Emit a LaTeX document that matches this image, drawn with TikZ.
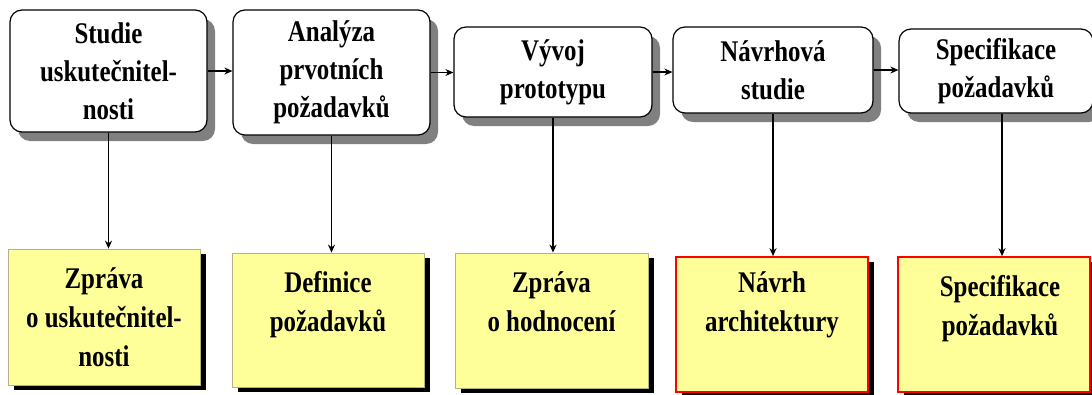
\documentclass[tikz,border=0pt]{standalone}
\usepackage{fontspec}
\setmainfont{Liberation Serif}[FakeStretch=0.83]
\usetikzlibrary{shapes.geometric, arrows.meta, shadows, positioning}
\definecolor{memo}{HTML}{FFFF99}
\definecolor{memoedge}{HTML}{B4B482}
\tikzstyle{phase} = [rectangle, rounded corners=12pt, draw=black, line width=1.2pt, fill=white, align=center, font=\bfseries\fontsize{30}{38}\selectfont, drop shadow={shadow xshift=8pt, shadow yshift=-9pt, fill=black!50, opacity=1}]
\tikzstyle{report} = [rectangle, draw=memoedge, line width=0.8pt, fill=memo, drop shadow={shadow xshift=6pt, shadow yshift=-5pt, fill=black, opacity=1}]
\tikzstyle{keyreport} = [report, draw=red, line width=1.6pt]
\tikzstyle{doctext} = [align=center, inner sep=0pt, font=\bfseries\fontsize{30}{39}\selectfont]
\tikzstyle{arrow} = [line width=1.2pt,-{Stealth[length=8pt,width=7pt]}]

\begin{document}
\begin{tikzpicture}[x=1pt, y=-1pt]
        \useasboundingbox (0,0) rectangle (1092,394);
        \node (studie) [phase, minimum width=197pt, minimum height=122pt] at (108.5,71) {Studie\\uskutečnitel-\\nosti};
        \node (analyza) [phase, minimum width=197pt, minimum height=125pt] at (331.5,72.5) {Analýza\\prvotních\\požadavků};
        \node (vyvoj) [phase, minimum width=198pt, minimum height=90pt] at (553,72) {Vývoj\\prototypu};
        \node (navrhova) [phase, minimum width=200pt, minimum height=86pt] at (773,70) {Návrhová\\studie};
        \node (specifikace) [phase, minimum width=194pt, minimum height=84pt] at (996,71) {Specifikace\\požadavků};

        \node (zprava) [report, minimum width=192pt, minimum height=136pt] at (104,317) {};
        \node (definice) [report, minimum width=192pt, minimum height=134pt] at (328,320) {};
        \node (hodnoceni) [report, minimum width=193pt, minimum height=135pt] at (551.5,320.5) {};
        \node (architektura) [keyreport, minimum width=192pt, minimum height=135pt] at (772,324.5) {};
        \node (pozadavky) [keyreport, minimum width=192pt, minimum height=135pt] at (994,324.5) {};

        \node (zprava_text) [doctext, below=19pt of zprava.north] {Zpráva\\o uskutečnitel-\\nosti};
        \node (definice_text) [doctext, below=19pt of definice.north] {Definice\\požadavků};
        \node (hodnoceni_text) [doctext, below=19pt of hodnoceni.north] {Zpráva\\o hodnocení};
        \node (architektura_text) [doctext, below=15pt of architektura.north] {Návrh\\architektury};
        \node (pozadavky_text) [doctext, below=19pt of pozadavky.north, xshift=6pt] {Specifikace\\požadavků};

        \draw [arrow] (studie.east) -- (studie.east -| analyza.west) ;
        \draw [arrow] (analyza.east) -- (analyza.east -| vyvoj.west) ;
        \draw [arrow] (vyvoj.east) -- (vyvoj.east -| navrhova.west) ;
        \draw [arrow] (navrhova.east) -- (navrhova.east -| specifikace.west) ;

        \draw [arrow] (studie.south) -- (studie.south |- zprava.north) ;
        \draw [arrow] (analyza.south) -- (analyza.south |- definice.north) ;
        \draw [arrow] (vyvoj.south) -- (vyvoj.south |- hodnoceni.north) ;
        \draw [arrow] (navrhova.south) -- (navrhova.south |- architektura.north) ;
        \draw [arrow] ([xshift=6pt]specifikace.south) -- ([xshift=6pt]specifikace.south |- pozadavky.north) ;

    \end{tikzpicture}
\end{document}
